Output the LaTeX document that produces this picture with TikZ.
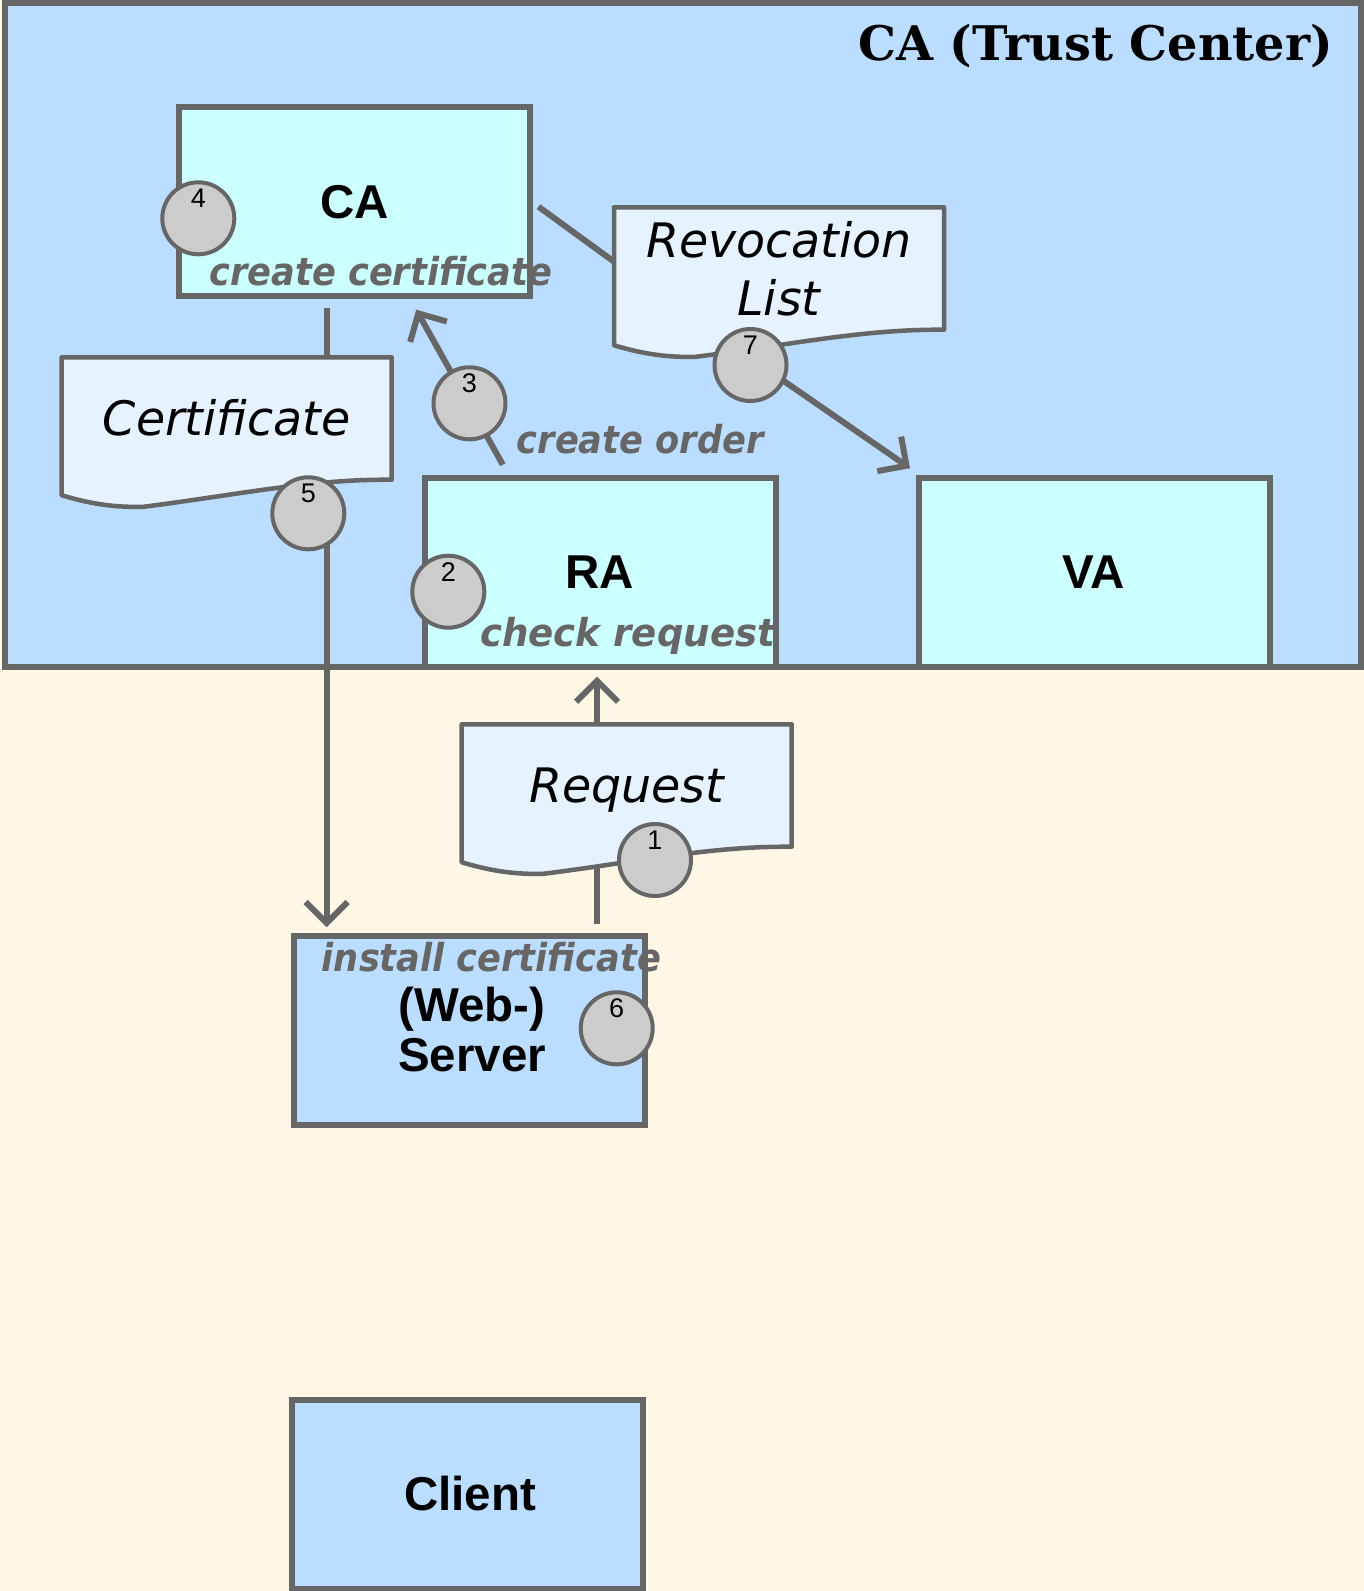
\documentclass[tikz,border=0pt]{standalone}
\usepackage{fontspec}
\usepackage{graphicx}
\usetikzlibrary{arrows.meta,calc}

% Typefaces
\newfontfamily\labelsans{Liberation Sans}
\newfontfamily\dejasans{DejaVu Sans}[ItalicFont={DejaVu Sans Oblique},BoldItalicFont={DejaVu Sans Bold Oblique}]
\newfontfamily\dejaserif{DejaVu Serif}

% Palette
\definecolor{paper}{HTML}{FFF7E6}
\definecolor{zone}{HTML}{BBDDFF}
\definecolor{unitfill}{HTML}{CCFFFF}
\definecolor{docfill}{HTML}{E6F2FF}
\definecolor{token}{HTML}{CCCCCC}
\definecolor{edge}{HTML}{666666}

\pgfdeclarelayer{zonelayer}
\pgfdeclarelayer{links}
\pgfdeclarelayer{docs}
\pgfsetlayers{zonelayer,links,docs,main}

% Narrow bold-oblique activity text (optional width factor)
\newcommand\actiontext[2][0.914]{\scalebox{#1}[1]{#2}}

\tikzset{
  zonebox/.style={draw=edge, fill=zone, line width=6pt, minimum width=1356pt,
    minimum height=664pt, inner sep=0pt, outer sep=0pt},
  zonetitle/.style={font={\dejaserif\bfseries\fontsize{47.7pt}{52pt}\selectfont},
    inner sep=0pt, anchor=base east},
  unit/.style={draw=edge, line width=6pt, minimum width=351pt, minimum height=189pt,
    inner sep=0pt, outer sep=0pt, align=center,
    font={\labelsans\bfseries\fontsize{47.5pt}{50pt}\selectfont}},
  inner unit/.style={unit, fill=unitfill},
  outer unit/.style={unit, fill=zone},
  docbox/.style={minimum width=330pt, minimum height=122.5pt, inner sep=0pt,
    outer sep=0pt, align=center,
    font={\dejasans\itshape\fontsize{47.5pt}{58.3pt}\selectfont}},
  doc1/.style={docbox, text height=36pt, text depth=3pt},
  docline/.style={draw=edge, fill=docfill, line width=4.5pt, line join=round},
  action/.style={text=edge, inner sep=0pt, anchor=base west,
    font={\dejasans\bfseries\itshape\fontsize{38.5pt}{42pt}\selectfont}},
  num/.style={circle, draw=edge, fill=token, line width=4pt, minimum size=72pt,
    inner sep=0pt, font={\labelsans\fontsize{27pt}{30pt}\selectfont},
    text height=19pt, text depth=40pt},
  link/.style={draw=edge, line width=6pt},
  flow/.style={link, -{Straight Barb[length=21pt, width=42pt]}},
}

% Document outline with a wavy lower edge, built on a docbox node
\newcommand\docoutline[1]{%
  \draw[docline] (#1.north west) -- (#1.north east) -- (#1.south east)
    .. controls ($(#1.south east)+(-80,-1)$) and ($(#1.south west)+(170,16)$)
    .. ($(#1.south west)+(82,27)$)
    .. controls ($(#1.south west)+(50,28)$) and ($(#1.south west)+(25,23)$)
    .. ($(#1.south west)+(0,15.5)$) -- cycle;}

\begin{document}
\begin{tikzpicture}[x=1pt, y=-1pt]
  \useasboundingbox (0,0) rectangle (1364,1591);

  % Trust center area
  \begin{pgfonlayer}{zonelayer}
    \fill[paper] (0,0) rectangle (1364,1591);
    \node[zonebox] (tc) at (682.5,335) {};
  \end{pgfonlayer}
  \node[zonetitle] (tctitle) at (1333,60) {CA (Trust Center)};

  % Units
  \node[inner unit] (ca) at (354.7,201.7) {CA};
  \node[inner unit] (ra) at (600,572.5) {RA};
  \node[inner unit] (va) at (1094,572.4) {VA};
  \node[outer unit] (server) at (469.5,1030) {\hspace*{5pt}(Web-)\\\hspace*{5pt}Server};
  \node[outer unit] (client) at (467.7,1494) {\hspace*{5pt}Client};

  % Documents
  \node[docbox] (rev) at (779,268.5) {Revocation\\List};
  \node[doc1] (cert) at (226.7,418.5) {Certificate};
  \node[doc1] (req) at (626.7,785.5) {Request};
  \begin{pgfonlayer}{docs}
    \docoutline{rev}
    \docoutline{cert}
    \docoutline{req}
  \end{pgfonlayer}

  % Connectors
  \begin{pgfonlayer}{links}
    \draw[link] ($(ca.south west)+(147.4,11.6)$) coordinate (cadrop) -- (cadrop |- cert.north);
    \draw[flow] (cadrop |- cert.south) -- ($(cadrop |- server.north)+(0,-8.3)$);
    \draw[link] ($(server.north east)+(-48,-11.7)$) coordinate (srvup) -- (srvup |- req.south);
    \draw[flow] (srvup |- req.north) -- ($(srvup |- ra.south)+(0,9.5)$);
    \draw[flow] ($(ra.north west)+(78.3,-13.3)$) -- ($(ca.south west)+(237,13.5)$);
    \draw[link] ($(ca.east)+(8.3,5)$) -- ($(rev.north west)+(0,54.4)$);
    \draw[flow] ($(rev.south west)+(126,21)$) -- ($(va.north west)+(-8.5,-9.7)$);
  \end{pgfonlayer}

  % Activity labels
  \node[action] (lcreatecert) at (209.3,285) {\actiontext{create certificate}};
  \node[action] (lcheck) at (480,646.7) {\actiontext[0.965]{check request}};
  \node[action] (linstall) at (321.7,971.7) {\actiontext{install certificate}};
  \node[action] (lorder) at (516.7,453.3) {\actiontext{create order}};

  % Step markers
  \node[num] (n1) at (655,860) {1};
  \node[num] (n2) at (448.3,591.7) {2};
  \node[num] (n3) at (469.5,403.3) {3};
  \node[num] (n4) at (198.3,218.3) {4};
  \node[num] (n5) at (308.3,513.3) {5};
  \node[num] (n6) at (616.7,1028.3) {6};
  \node[num] (n7) at (750.5,365) {7};
\end{tikzpicture}
\end{document}
